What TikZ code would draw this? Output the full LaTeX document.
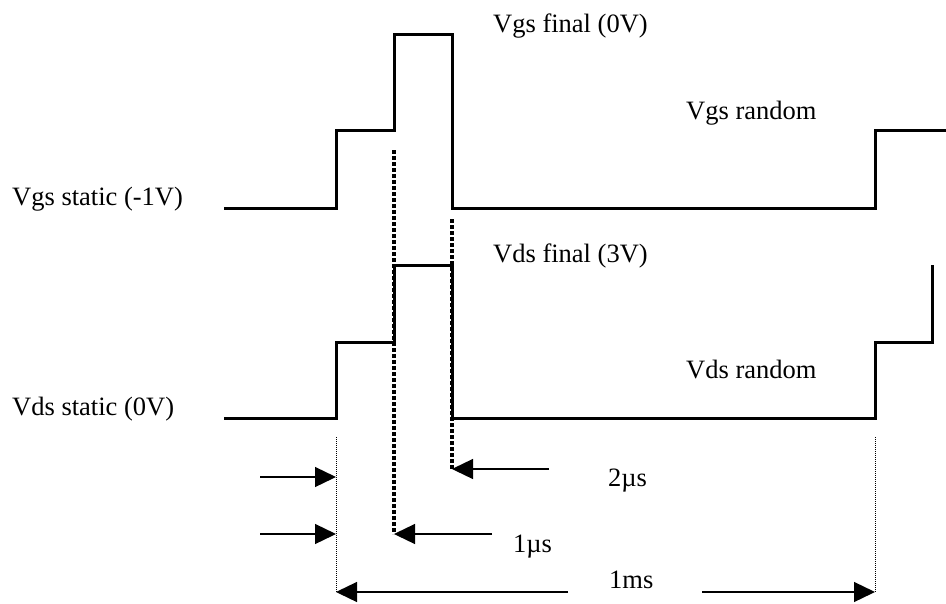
\documentclass[tikz,border=0pt]{standalone}
\usepackage{fontspec}
\setmainfont{Liberation Serif}
\usetikzlibrary{arrows.meta}
\begin{document}
\begin{tikzpicture}[x=1pt,y=-1pt,
  wave/.style={line width=3pt,line join=miter},
  thickdot/.style={line width=3.5pt,dash pattern=on 3.5pt off 2.5pt},
  thindot/.style={line width=1pt,dash pattern=on 1pt off 1pt},
  dimarrow/.style={line width=1.3pt,-{Triangle[length=21pt,width=20pt]}},
  lbl/.style={anchor=base west,inner sep=0pt,font=\fontsize{26.5}{30}\selectfont}]
\useasboundingbox (0,0) rectangle (946,603);
% Vgs waveform
\draw[wave] (224,208)--(336,208)--(336,130)--(394,130)--(394,34)--(452,34)--(452,208)--(875,208)--(875,130)--(946,130);
% Vds waveform
\draw[wave] (224,418)--(336,418)--(336,342)--(394,342)--(394,265)--(452,265)--(452,418)--(875,418)--(875,342)--(932,342)--(932,265);
% markers
\coordinate (d1t) at (394,150); \coordinate (d1b) at (394,534);
\coordinate (d2t) at (452,219); \coordinate (d2b) at (452,469);
\coordinate (t1t) at (336,437); \coordinate (t1b) at (336,592);
\coordinate (t2t) at (875,437); \coordinate (t2b) at (875,592);
\draw[thickdot] (d1t)--(d1b);
\draw[thickdot] (d2t)--(d2b);
\draw[thindot] (t1t)--(t1b);
\draw[thindot] (t2t)--(t2b);
% arrows
\coordinate (a1s) at (260,477); \coordinate (a1e) at (336,477);
\coordinate (a2s) at (260,534); \coordinate (a2e) at (336,534);
\coordinate (a3s) at (549,469);
\coordinate (a4s) at (492,534);
\coordinate (a5s) at (568,592);
\coordinate (a6s) at (702,592);
\draw[dimarrow] (a1s)--(a1e);
\draw[dimarrow] (a2s)--(a2e);
\draw[dimarrow] (a3s)--(d2b);
\draw[dimarrow] (a4s)--(d1b);
\draw[dimarrow] (a5s)--(t1b);
\draw[dimarrow] (a6s)--(t2b);
% labels
\node[lbl] (vgsstatic) at (12,205) {Vgs static (-1V)};
\node[lbl] (vdsstatic) at (12,415) {Vds static (0V)};
\node[lbl] (vgsfinal) at (493,32) {Vgs final (0V)};
\node[lbl] (vdsfinal) at (493,262) {Vds final (3V)};
\node[lbl] (vgsrandom) at (686,119) {Vgs random};
\node[lbl] (vdsrandom) at (686,378) {Vds random};
\node[lbl] (t2us) at (608,486) {2µs};
\node[lbl] (t1us) at (513,552) {1µs};
\node[lbl] (t1ms) at (609,588) {1ms};
\end{tikzpicture}
\end{document}
